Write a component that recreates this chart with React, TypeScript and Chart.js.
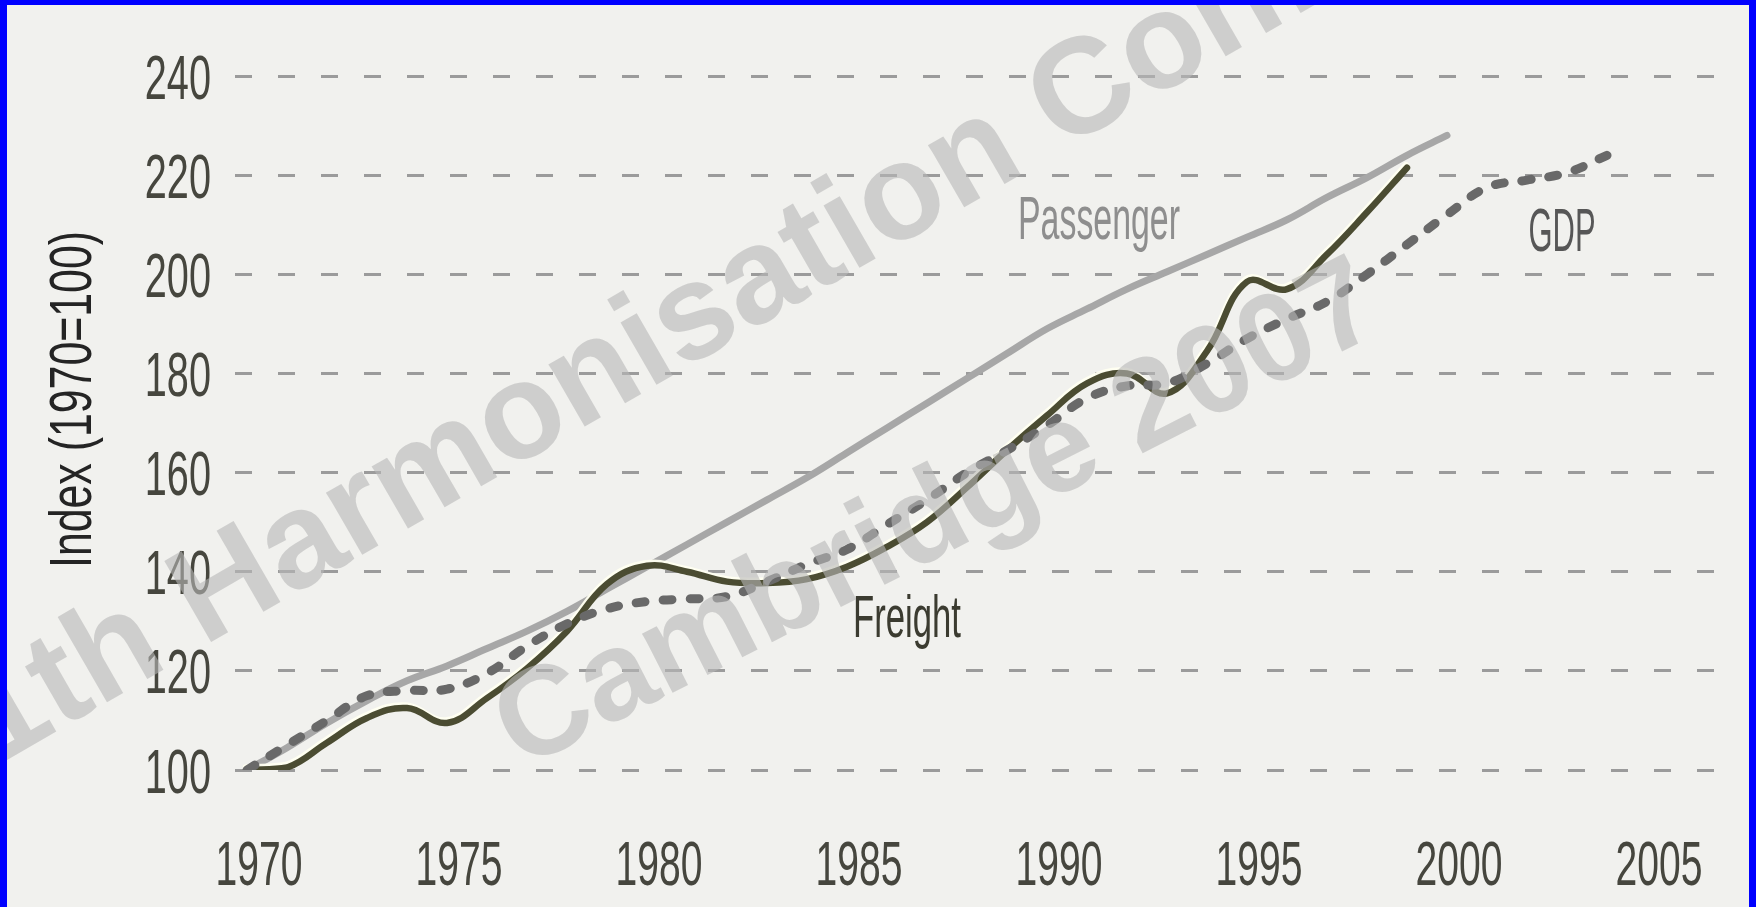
import React, { useEffect, useRef } from "react";
import { Chart, registerables } from "chart.js";

Chart.register(...registerables);

// ---------- data ----------
const xTickYears = [1970, 1975, 1980, 1985, 1990, 1995, 2000, 2005];
const yTickValues = [100, 120, 140, 160, 180, 200, 220, 240];

const passengerYears = [
  1970, 1971, 1972, 1973, 1974, 1975, 1976, 1977, 1978, 1979, 1980, 1981, 1982, 1983, 1984, 1985,
  1986, 1987, 1988, 1989, 1990, 1991, 1992, 1993, 1994, 1995, 1996, 1997, 1998, 1999, 2000,
];
const passengerValues = [
  100, 104.5, 109.5, 114, 118, 121, 124.5, 128, 132, 136.5, 141, 145.5, 150, 154.5, 159, 164,
  169, 174, 179, 184, 189, 193, 197, 200.5, 204, 207.5, 211, 215.5, 219.5, 224, 228,
];

const freightYears = [
  1970, 1971, 1972, 1973, 1974, 1975, 1976, 1977, 1978, 1979, 1980, 1981, 1982, 1983, 1984, 1985,
  1986, 1987, 1988, 1989, 1990, 1991, 1992, 1993, 1994, 1995, 1996, 1997, 1998, 1999,
];
const freightValues = [
  100, 100.5, 105.5, 110.5, 112.5, 109.5, 114.5, 120.5, 128, 137.5, 141.2, 140, 138, 137.7, 138.5, 141,
  145, 150, 157, 164.5, 171.5, 178, 180, 176, 184.5, 198.5, 197, 204, 212.5, 221.5,
];

const gdpYears = [
  1970, 1971, 1972, 1973, 1974, 1975, 1976, 1977, 1978, 1979, 1980, 1981, 1982, 1983, 1984, 1985,
  1986, 1987, 1988, 1989, 1990, 1991, 1992, 1993, 1994, 1995, 1996, 1997, 1998, 1999, 2000, 2001,
  2002, 2003, 2004,
];
const gdpValues = [
  100, 105, 110, 115, 116, 116.3, 119.5, 125, 129.5, 132.5, 134, 134.5, 135, 138, 141.5, 144.5,
  149.5, 154.5, 160, 164.5, 169.5, 175, 177.5, 178, 182, 187, 191, 194.5, 200, 206, 212, 217.5,
  219, 220.5, 224,
];

const yAxisTitle = "Index (1970=100)";
const watermarkLines = ["11th Harmonisation Conference", "Cambridge 2007"];

// label anchors (data coordinates) for the in-chart series names
const seriesLabels = [
  { text: "Passenger", year: 1991.3, value: 207.1 },
  { text: "Freight", year: 1986.5, value: 126.8 },
  { text: "GDP", year: 2002.875, value: 204.7 },
];

// ---------- drawing helpers ----------
const FONT = '"Liberation Sans", Arial, "DejaVu Sans", sans-serif';

function drawCondensed(
  ctx: CanvasRenderingContext2D,
  text: string,
  x: number,
  y: number,
  o: {
    size: number;
    color: string;
    align: CanvasTextAlign;
    sx?: number;
    width?: number;
    rotation?: number;
    weight?: string;
  }
) {
  ctx.save();
  ctx.font = `${o.weight || "normal"} ${o.size}px ${FONT}`;
  let sx = o.sx ?? 1;
  if (o.width) sx = o.width / ctx.measureText(text).width;
  ctx.translate(x, y);
  if (o.rotation) ctx.rotate(o.rotation);
  ctx.scale(sx, 1);
  ctx.textAlign = o.align;
  ctx.textBaseline = "alphabetic";
  ctx.fillStyle = o.color;
  ctx.fillText(text, 0, 0);
  ctx.restore();
}

const labelStyles: Record<string, { size: number; width: number; color: string }> = {
  Passenger: { size: 62, width: 162, color: "#8e8e8e" },
  Freight: { size: 60, width: 108, color: "#3b3b30" },
  GDP: { size: 62, width: 67, color: "#575757" },
};

const watermarkStyles = [
  { cx: 796, cy: 252, size: 136, angle: -Math.PI / 6 },
  { cx: 932, cy: 513, size: 126, angle: (-27 * Math.PI) / 180 },
];

const textPlugin = {
  id: "chartTexts",
  beforeDatasetDraw(chart: any, args: any) {
    if (args.index === 1) {
      const ctx = chart.ctx;
      ctx.save();
      ctx.shadowColor = "rgba(255,255,240,0.95)";
      ctx.shadowBlur = 0;
      ctx.shadowOffsetX = -1;
      ctx.shadowOffsetY = -2.5;
    }
  },
  afterDatasetDraw(chart: any, args: any) {
    if (args.index === 1) chart.ctx.restore();
  },
  afterDatasetsDraw(chart: any) {
    const ctx: CanvasRenderingContext2D = chart.ctx;
    const xs = chart.scales.x;
    const ys = chart.scales.y;
    yTickValues.forEach((v) => {
      drawCondensed(ctx, String(v), 204, ys.getPixelForValue(v) + 22.5, {
        size: 63,
        sx: 0.63,
        color: "#46463e",
        align: "right",
      });
    });
    xTickYears.forEach((v) => {
      drawCondensed(ctx, String(v), xs.getPixelForValue(v) + 12, 880, {
        size: 63,
        sx: 0.62,
        color: "#46463e",
        align: "center",
      });
    });
    drawCondensed(ctx, yAxisTitle, 84, 394.5, {
      size: 60,
      width: 337,
      color: "#242424",
      align: "center",
      rotation: -Math.PI / 2,
    });
    seriesLabels.forEach((l) => {
      const st = labelStyles[l.text];
      drawCondensed(ctx, l.text, xs.getPixelForValue(l.year), ys.getPixelForValue(l.value), {
        size: st.size,
        width: st.width,
        color: st.color,
        align: "center",
      });
    });
  },
  afterDraw(chart: any) {
    const ctx: CanvasRenderingContext2D = chart.ctx;
    watermarkLines.forEach((t, i) => {
      const w = watermarkStyles[i];
      ctx.save();
      ctx.translate(w.cx, w.cy);
      ctx.rotate(w.angle);
      ctx.font = `bold ${w.size}px ${FONT}`;
      ctx.textAlign = "center";
      ctx.textBaseline = "middle";
      ctx.fillStyle = "rgba(184,184,184,0.6)";
      ctx.fillText(t, 0, 0);
      ctx.restore();
    });
  },
};

const toPoints = (xs: number[], ys: number[]) => xs.map((x, i) => ({ x, y: ys[i] }));

export default function App() {
  const ref = useRef<HTMLCanvasElement | null>(null);

  useEffect(() => {
    document.body.style.margin = "0";
    const canvas = ref.current!;
    const chart = new Chart(canvas, {
      type: "line",
      data: {
        datasets: [
          {
            label: "Passenger",
            data: toPoints(passengerYears, passengerValues),
            borderColor: "#a7a7a7",
            borderWidth: 7,
            tension: 0.4,
            pointRadius: 0,
            borderCapStyle: "round",
            borderJoinStyle: "round",
            order: 3,
          },
          {
            label: "Freight",
            data: toPoints(freightYears, freightValues),
            borderColor: "#4b4c32",
            borderWidth: 6.5,
            tension: 0.4,
            pointRadius: 0,
            borderCapStyle: "round",
            borderJoinStyle: "round",
            order: 2,
          },
          {
            label: "GDP",
            data: toPoints(gdpYears, gdpValues),
            borderColor: "#696969",
            borderWidth: 9,
            borderDash: [9, 18],
            tension: 0.4,
            pointRadius: 0,
            borderCapStyle: "round",
            order: 1,
          },
        ],
      },
      options: {
        animation: false,
        responsive: false,
        maintainAspectRatio: false,
        layout: { padding: { left: 228, right: 27, top: 71, bottom: 137 } },
        plugins: { legend: { display: false }, tooltip: { enabled: false } },
        scales: {
          x: {
            type: "linear",
            min: 1969.7,
            max: 2006.875,
            afterBuildTicks: (s: any) => {
              s.ticks = xTickYears.map((v) => ({ value: v }));
            },
            ticks: { display: false },
            grid: { display: false, drawTicks: false },
            border: { display: false },
          },
          y: {
            type: "linear",
            min: 100,
            max: 240,
            afterBuildTicks: (s: any) => {
              s.ticks = yTickValues.map((v) => ({ value: v }));
            },
            ticks: { display: false },
            grid: { color: "#9b9b9b", lineWidth: 3, drawTicks: false },
            border: { display: false, dash: [17, 26] },
          },
        },
      },
      plugins: [textPlugin],
    } as any);
    return () => chart.destroy();
  }, []);

  return (
    <div
      style={{
        width: 1756,
        height: 907,
        boxSizing: "border-box",
        borderStyle: "solid",
        borderColor: "#0000ff",
        borderWidth: "5px 7px 0 7px",
        background: "#f1f1ee",
        overflow: "hidden",
      }}
    >
      <canvas ref={ref} width={1742} height={902} style={{ display: "block", width: 1742, height: 902 }} />
    </div>
  );
}
